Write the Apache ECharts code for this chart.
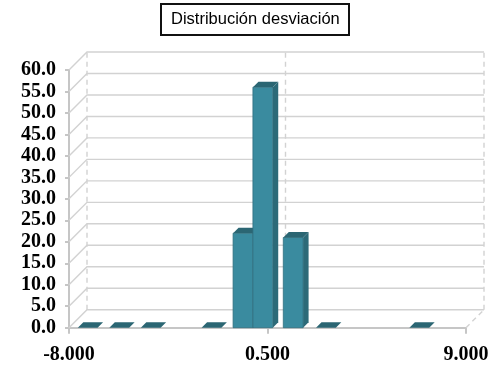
<!DOCTYPE html>
<html>
<head>
<meta charset="utf-8">
<script src="https://cdn.jsdelivr.net/npm/echarts@6/dist/echarts.min.js"></script>
<style>
  html, body { margin: 0; padding: 0; background: #fff; }
  #chart { width: 497px; height: 367px; }
</style>
</head>
<body>
<div id="chart"></div>
<script>
// Histogram of deviations: bin centres and counts
const binCenters = [-7.2, -5.85, -4.5, -1.9, -0.55, 0.3, 1.6, 3.0, 7.0];
const counts     = [0, 0, 0, 0, 22, 56, 21, 0, 0];

// Axis ranges and tick values
const xMin = -8, xMax = 9, xStep = 8.5;
const xTicks = [-8, 0.5, 9];
const yMin = 0, yMax = 60, yStep = 5;
const yTicks = [0, 5, 10, 15, 20, 25, 30, 35, 40, 45, 50, 55, 60];

const DEPTH = 18;      // perspective offset of the back wall (px)
const BAR_DEPTH = 5.5; // thickness of the bar's top/side faces (px)
const BAR_W = 19.8;    // bar front width (px)

const FRONT = '#3a8b9f', SIDE = '#2c6a78', TOP = '#2b6673';
const WALL = '#d2d2d2';

const chart = echarts.init(document.getElementById('chart'), null, { renderer: 'canvas' });

// side wall diagonals + back wall horizontal gridlines, one per y tick
function renderWall(params, api) {
  const v = api.value(1);
  const a = api.coord([xMin, v]);
  const b = api.coord([xMax, v]);
  return {
    type: 'polyline',
    shape: { points: [[a[0], a[1]], [a[0] + DEPTH, a[1] - DEPTH], [b[0] + DEPTH, b[1] - DEPTH]] },
    style: { stroke: WALL, lineWidth: 1.4, fill: null }
  };
}

// dashed verticals on the back wall at each x tick
function renderVert(params, api) {
  const x = api.value(0);
  const lo = api.coord([x, yMin]);
  const hi = api.coord([x, yMax]);
  const children = [{
    type: 'line',
    shape: { x1: lo[0] + DEPTH, y1: lo[1] - DEPTH, x2: hi[0] + DEPTH, y2: hi[1] - DEPTH },
    style: { stroke: WALL, lineWidth: 1.4, lineDash: [5, 4] }
  }];
  if (x === xMax) {
    children.push({
      type: 'line',
      shape: { x1: lo[0], y1: lo[1], x2: lo[0] + DEPTH, y2: lo[1] - DEPTH },
      style: { stroke: WALL, lineWidth: 1.4, lineDash: [5, 4] }
    });
  }
  return { type: 'group', children: children };
}

// pseudo-3D column: side, front and top faces
function renderBar(params, api) {
  const c = api.coord([api.value(0), api.value(1)]);
  const base = api.coord([api.value(0), 0]);
  const l = c[0] - BAR_W / 2, r = c[0] + BAR_W / 2;
  const top = c[1], y0 = base[1], d = BAR_DEPTH;
  const children = [];
  if (y0 - top > 0.5) {
    children.push({
      type: 'polygon',
      shape: { points: [[r, y0], [r, top], [r + d, top - d], [r + d, y0 - d]] },
      style: { fill: SIDE }
    });
    children.push({
      type: 'rect',
      shape: { x: l, y: top, width: BAR_W, height: y0 - top },
      style: { fill: FRONT, stroke: '#306f7f', lineWidth: 0.8 }
    });
  }
  children.push({
    type: 'polygon',
    shape: { points: [[l, top], [r, top], [r + d, top - d], [l + d, top - d]] },
    style: { fill: TOP }
  });
  return { type: 'group', children: children };
}

const labelFont = {
  fontFamily: '"Liberation Serif", "Times New Roman", serif',
  fontWeight: 'bold',
  fontSize: 20,
  color: '#000'
};

chart.setOption({
  animation: false,
  backgroundColor: '#fff',
  title: {
    text: 'Distribución desviación',
    left: 161,
    top: 4,
    padding: [7, 10, 7, 10],
    borderColor: '#111',
    borderWidth: 2,
    textStyle: {
      fontFamily: '"Liberation Sans", Arial, sans-serif',
      fontWeight: 'normal',
      fontSize: 16.5,
      color: '#000'
    }
  },
  grid: { left: 69, right: 31, top: 70, bottom: 39.3 },
  xAxis: {
    type: 'value',
    min: xMin, max: xMax, interval: xStep,
    splitLine: { show: false },
    axisLine: { show: true, onZero: false, lineStyle: { color: '#c6c6c6', width: 2 } },
    axisTick: { show: true, length: 6, lineStyle: { color: '#c6c6c6', width: 2 } },
    axisLabel: Object.assign({ margin: 17, formatter: v => v.toFixed(3) }, labelFont)
  },
  yAxis: {
    type: 'value',
    min: yMin, max: yMax, interval: yStep,
    splitLine: { show: false },
    axisLine: { show: true, onZero: false, lineStyle: { color: '#c6c6c6', width: 2 } },
    axisTick: { show: true, length: 4, lineStyle: { color: '#c6c6c6', width: 2 } },
    axisLabel: Object.assign({ margin: 13, padding: [6, 0, 0, 0], formatter: v => v.toFixed(1) }, labelFont)
  },
  series: [
    {
      type: 'custom',
      renderItem: renderWall,
      data: yTicks.map(v => [xMin, v]),
      z: 1,
      silent: true
    },
    {
      type: 'custom',
      renderItem: renderVert,
      data: xTicks.map(x => [x, yMin]),
      z: 1,
      silent: true
    },
    {
      type: 'custom',
      name: 'Frecuencia',
      renderItem: renderBar,
      data: binCenters.map((x, i) => [x, counts[i]]),
      z: 3,
      silent: true
    }
  ]
});
</script>
</body>
</html>
